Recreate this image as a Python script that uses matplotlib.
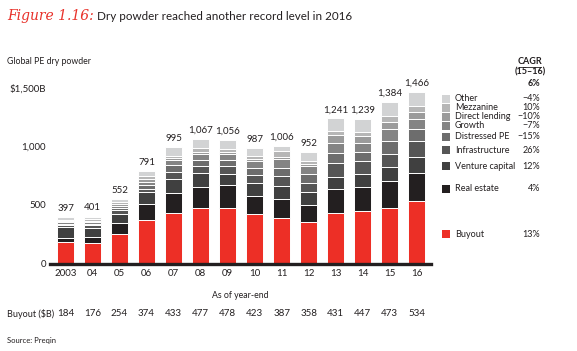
import matplotlib
matplotlib.use("Agg")
import matplotlib.pyplot as plt
import matplotlib.transforms as mtransforms
from matplotlib.lines import Line2D

plt.rcParams['font.family'] = ['Lato', 'DejaVu Sans']

# data ($B)
years = ['2003', '04', '05', '06', '07', '08', '09', '10', '11', '12', '13', '14', '15', '16']
buyout = [184, 176, 254, 374, 433, 477, 478, 423, 387, 358, 431, 447, 473, 534]
real_estate = [30, 49, 89, 137, 170, 180, 190, 152, 161, 145, 203, 205, 234, 243]
venture = [100, 82, 83, 100, 123, 117, 100, 110, 116, 104, 102, 115, 121, 136]
infrastructure = [12, 18, 27, 30, 60, 63, 69, 72, 82, 79, 121, 108, 108, 136]
distressed = [12, 14, 20, 30, 57, 50, 50, 63, 72, 76, 87, 80, 115, 98]
growth = [13, 14, 18, 28, 41, 50, 50, 57, 75, 73, 90, 77, 96, 89]
direct_lending = [12, 14, 16, 26, 19, 16, 16, 16, 13, 19, 68, 59, 66, 59]
mezzanine = [12, 14, 16, 20, 19, 38, 28, 25, 53, 25, 34, 37, 48, 53]
other = [22, 20, 29, 46, 73, 76, 75, 69, 47, 73, 105, 111, 123, 118]
totals = [397, 401, 552, 791, 995, 1067, 1056, 987, 1006, 952, 1241, 1239, 1384, 1466]

series_names = ['Buyout', 'Real estate', 'Venture capital', 'Infrastructure', 'Distressed PE',
                'Growth', 'Direct lending', 'Mezzanine', 'Other']
series = [buyout, real_estate, venture, infrastructure, distressed, growth,
          direct_lending, mezzanine, other]
colors = ['#ed2f26', '#231f20', '#404040', '#565656', '#6d6d6d', '#848484',
          '#9b9b9b', '#b6b6b6', '#d2d3d4']
cagr = ['13%', '4%', '12%', '26%', '\u221215%', '\u22127%', '\u221210%', '10%', '\u22124%']
cagr_total = '6%'

W, H = 577, 351
fig = plt.figure(figsize=(W / 100, H / 100), dpi=100)
ax = fig.add_axes([50 / W, 1 - 263.5 / H, (431 - 50) / W, (263.5 - 88) / H])

txt = '#231f20'
x = list(range(len(years)))
bottom = [0] * len(years)
for vals, c in zip(series, colors):
    ax.bar(x, vals, bottom=bottom, width=0.63, color=c, edgecolor='white', linewidth=0.7, zorder=2)
    bottom = [b + v for b, v in zip(bottom, vals)]

for i, t in enumerate(totals):
    ax.text(i, t + 35, f"{t:,}", ha='center', va='bottom', fontsize=7, color=txt)

ax.axhline(0, color=txt, linewidth=2.4, zorder=3, clip_on=False)
ax.set_xlim(-0.574, len(years) - 1 + 0.533)
ax.set_ylim(0, 1500)
for s in ax.spines.values():
    s.set_visible(False)
ax.set_yticks([0, 500, 1000, 1500])
ax.set_yticklabels(['0', '500', '1,000', '$1,500B'])
ax.set_xticks(x)
ax.set_xticklabels(years)
ax.tick_params(length=0, labelsize=7, labelcolor=txt)
ax.tick_params(axis='y', pad=3)
ax.tick_params(axis='x', pad=4)

# title and labels
fig.text(7 / W, 1 - 16 / H, 'Figure 1.16:', color='#e8312a', fontsize=10, style='italic',
         va='center', family='DejaVu Serif')
fig.text(97 / W, 1 - 16 / H, 'Dry powder reached another record level in 2016',
         color=txt, fontsize=8.4, va='center')
fig.text(7 / W, 1 - 62 / H, 'Global PE dry powder', fontsize=6.3, color=txt, va='center')
fig.text(240 / W, 1 - 295 / H, 'As of year-end', fontsize=6.3, color=txt, ha='center', va='center')
fig.text(7 / W, 1 - 314 / H, 'Buyout ($B)', fontsize=6.5, color=txt, va='center')
fig.text(7 / W, 1 - 341 / H, 'Source: Preqin', fontsize=5.5, color=txt, va='center')

row = mtransforms.blended_transform_factory(ax.transData, fig.transFigure)
for i, v in enumerate(buyout):
    ax.text(i, 1 - 314 / H, str(v), transform=row, ha='center', va='center',
            fontsize=7, color=txt, clip_on=False)

# legend aligned with the 2016 bar segments
leg = mtransforms.blended_transform_factory(fig.transFigure, ax.transData)
last = [s[-1] for s in series]
pos = []
cum = 0
prev = None
for v in last:
    mid = cum + v / 2 - 15
    if prev is not None and mid < prev + 77:
        mid = prev + 77
    pos.append(mid)
    prev = mid
    cum += v
for name, c, y, g in zip(series_names, colors, pos, cagr):
    ax.scatter([445.5 / W], [y], s=26, marker='s', color=c, transform=leg, clip_on=False, linewidths=0)
    ax.text(455 / W, y, name, transform=leg, fontsize=6.5, color=txt, va='center', clip_on=False)
    ax.text(540 / W, y, g, transform=leg, fontsize=6.5, color=txt, va='center', ha='right', clip_on=False)

fig.text(530 / W, 1 - 61 / H, 'CAGR', fontsize=6.5, color=txt, ha='center', va='center', weight='bold')
fig.add_artist(Line2D([519 / W, 541 / W], [1 - 66.5 / H, 1 - 66.5 / H], color=txt, linewidth=0.6))
fig.text(530 / W, 1 - 72 / H, '(15\u201316)', fontsize=6.5, color=txt, ha='center', va='center', weight='bold')
fig.text(540 / W, 1 - 84 / H, cagr_total, fontsize=6.5, color=txt, ha='right', va='center', weight='bold')

fig.savefig('out.png', dpi=100)
